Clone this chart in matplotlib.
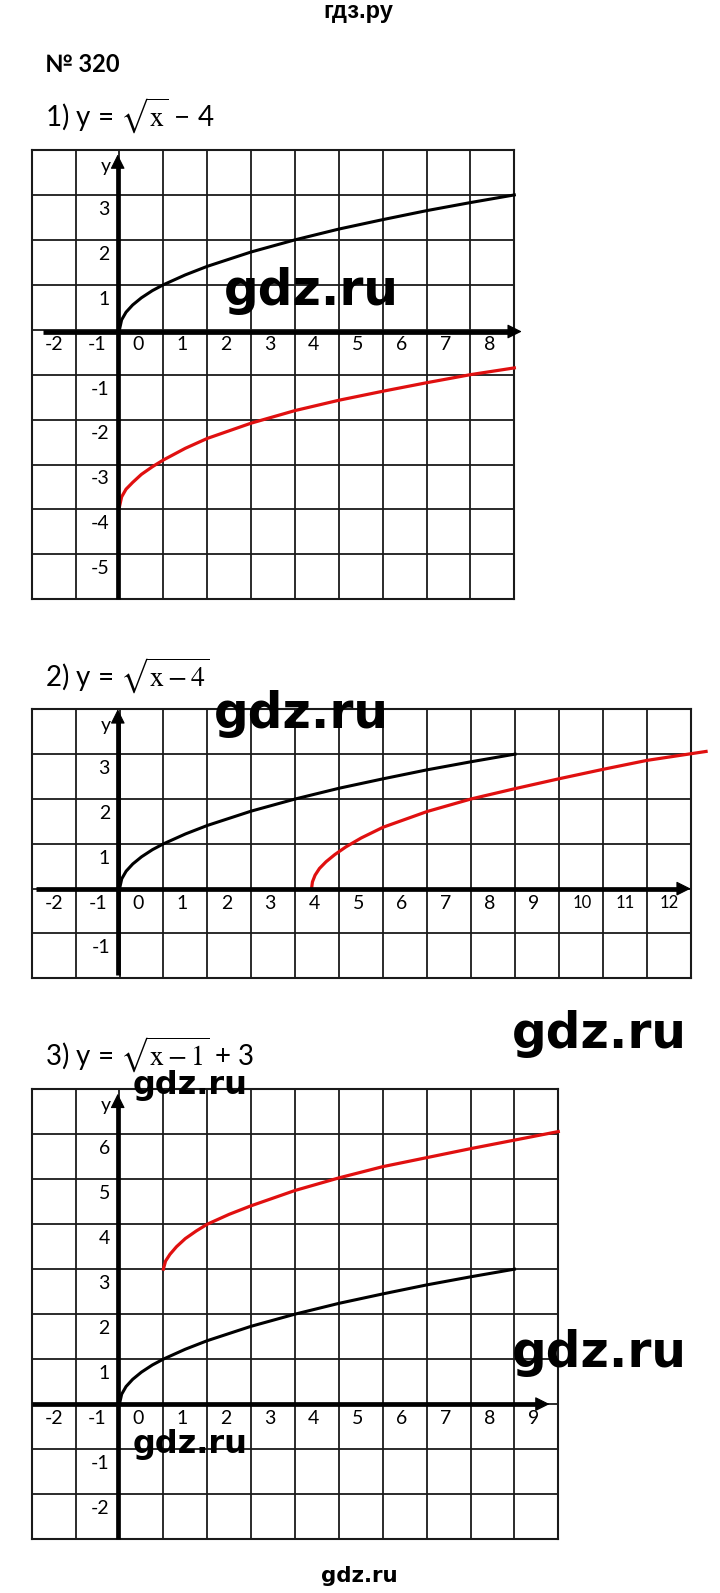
import matplotlib
matplotlib.use("Agg")
import matplotlib.pyplot as plt

plt.rcParams['font.family'] = ['Lato', 'DejaVu Sans']
plt.rcParams['mathtext.fontset'] = 'stix'

# curves (grid units)
root_x = [0, 0.05, 0.15, 0.3, 0.5, 0.75, 1, 1.5, 2, 3, 4, 5, 6, 7, 8, 9]
root_y = [0, 0.22, 0.39, 0.55, 0.71, 0.87, 1.0, 1.22, 1.41, 1.73, 2.0, 2.24, 2.45, 2.65, 2.83, 3.0]

red1_x = [0, 0.05, 0.15, 0.3, 0.5, 0.75, 1, 1.5, 2, 3, 4, 5, 6, 7, 8, 9]
red1_y = [-3.94, -3.72, -3.55, -3.40, -3.22, -3.05, -2.9, -2.64, -2.42, -2.08, -1.8, -1.57, -1.37, -1.18, -1.0, -0.85]

red2_x = [4.37, 4.39, 4.45, 4.55, 4.7, 4.9, 5.15, 5.5, 6, 7, 8, 9, 10, 11, 12, 13.35]
red2_y = [0, 0.15, 0.3, 0.45, 0.6, 0.76, 0.93, 1.13, 1.37, 1.72, 2.0, 2.23, 2.45, 2.66, 2.86, 3.06]

red3_x = [1.0, 1.05, 1.15, 1.3, 1.5, 1.75, 2.0, 2.5, 3, 4, 5, 6, 7, 8, 9, 10]
red3_y = [3.0, 3.18, 3.33, 3.5, 3.68, 3.85, 4.0, 4.22, 4.41, 4.75, 5.03, 5.28, 5.48, 5.68, 5.87, 6.06]

# tick labels
p1_xlabels = [-2, -1, 0, 1, 2, 3, 4, 5, 6, 7, 8]
p1_ylabels = [3, 2, 1, -1, -2, -3, -4, -5]
p2_xlabels = [-2, -1, 0, 1, 2, 3, 4, 5, 6, 7, 8, 9, 10, 11, 12]
p2_ylabels = [3, 2, 1, -1]
p3_xlabels = [-2, -1, 0, 1, 2, 3, 4, 5, 6, 7, 8, 9]
p3_ylabels = [6, 5, 4, 3, 2, 1, -1, -2]

titles = [r"1) y = $\sqrt{\mathrm{x}}$ − 4",
          r"2) y = $\sqrt{\mathrm{x} - \mathrm{4}}$",
          r"3) y = $\sqrt{\mathrm{x} - \mathrm{1}}$ + 3"]

W, H = 720, 1593
fig = plt.figure(figsize=(W / 100, H / 100), dpi=100)
RED = '#e01010'


def panel(l, t, r, b, xlim, ylim, xlabels, ylabels, xspan, yspan, xax_y, yax_x):
    ax = fig.add_axes([l / W, 1 - b / H, (r - l) / W, (b - t) / H])
    ax.set_xlim(xlim)
    ax.set_ylim(ylim)
    ax.set_xticks(range(xlim[0], xlim[1] + 1))
    ax.set_yticks(range(ylim[0], ylim[1] + 1))
    ax.grid(True, color='#1a1a1a', lw=1.3)
    ax.tick_params(length=0, labelbottom=False, labelleft=False)
    for s in ax.spines.values():
        s.set_linewidth(1.5)
        s.set_color('#1a1a1a')

    # axes with arrows
    ax.plot([xspan[0], xspan[1] - 0.2], [xax_y, xax_y], color='k', lw=3.4,
            solid_capstyle='butt', clip_on=False, zorder=4)
    ax.plot([yax_x, yax_x], [yspan[0], yspan[1] - 0.2], color='k', lw=3.4,
            solid_capstyle='butt', clip_on=False, zorder=4)
    head = dict(arrowstyle='-|>,head_length=0.9,head_width=0.45', mutation_scale=10,
                lw=0.8, color='k', shrinkA=0, shrinkB=0)
    ax.annotate('', xy=(xspan[1], xax_y), xytext=(xspan[1] - 0.3, xax_y),
                arrowprops=head, annotation_clip=False, zorder=5)
    ax.annotate('', xy=(yax_x, yspan[1]), xytext=(yax_x, yspan[1] - 0.3),
                arrowprops=head, annotation_clip=False, zorder=5)

    for n in xlabels:
        if n >= 10:
            ax.text(n + 0.52, -0.33, str(n), ha='center', va='center', fontsize=12)
        else:
            ax.text(n + (0.43 if n >= 0 else 0.5), -0.33, str(n), ha='center',
                    va='center', fontsize=14)
    for n in ylabels:
        ax.text(-0.22, n - 0.32, str(n), ha='right', va='center', fontsize=14)
    ax.text(-0.2, ylim[1] - 0.36, 'y', ha='right', va='center', fontsize=14)
    return ax


ax1 = panel(31.7, 150, 514.3, 599.3, (-2, 9), (-6, 4), p1_xlabels, p1_ylabels,
            (-1.75, 9.17), (-6, 3.9), -0.04, -0.04)
ax1.plot(root_x, root_y, color='k', lw=2.2, zorder=3, clip_on=False)
ax1.plot(red1_x, red1_y, color=RED, lw=2.3, zorder=3, clip_on=False)

ax2 = panel(31.7, 709.3, 690.7, 978.3, (-2, 13), (-2, 4), p2_xlabels, p2_ylabels,
            (-1.9, 13.0), (-1.92, 4.0), 0, -0.04)
ax2.plot(root_x, root_y, color='k', lw=2.2, zorder=3, clip_on=False)
ax2.plot(red2_x, red2_y, color=RED, lw=2.3, zorder=3, clip_on=False)

ax3 = panel(31.7, 1089.3, 558.3, 1539, (-2, 10), (-3, 7), p3_xlabels, p3_ylabels,
            (-2, 9.8), (-3, 6.9), 0, -0.04)
ax3.plot(root_x, root_y, color='k', lw=2.2, zorder=3, clip_on=False)
ax3.plot(red3_x, red3_y, color=RED, lw=2.3, zorder=3, clip_on=False)

# header and titles
fig.text(358 / W, 1 - 18 / H, "гдз.ру", ha='center', va='baseline', fontsize=17,
         fontweight='bold', family=['Liberation Sans'])
fig.text(45 / W, 1 - 72 / H, "№ 320", ha='left', va='baseline', fontsize=17,
         fontweight='bold')
for ty, t in zip([126.7, 686.7, 1065.5], titles):
    fig.text(45 / W, 1 - ty / H, t, ha='left', va='baseline', fontsize=20)

# watermarks
marks = [(223.6, 305, 35), (213.5, 728, 35), (512, 1047.7, 35), (512, 1367, 35),
         (133, 1094, 23), (133, 1453, 23), (321, 1582, 15.4)]
for mx, my, fs in marks:
    fig.text(mx / W, 1 - my / H, "gdz.ru", ha='left', va='baseline', fontsize=fs,
             fontweight='bold', family=['DejaVu Sans'], zorder=10)

fig.savefig('out.png', dpi=100)
